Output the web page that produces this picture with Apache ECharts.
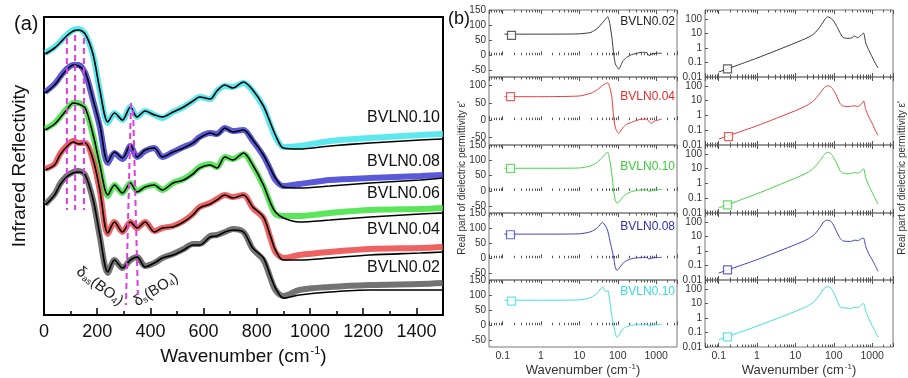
<!DOCTYPE html>
<html>
<head>
<meta charset="utf-8">
<script src="https://cdn.jsdelivr.net/npm/echarts@6/dist/echarts.min.js"></script>
<style>
html, body { margin: 0; padding: 0; background: #fff; }
#chart { width: 908px; height: 378px; }
</style>
</head>
<body>
<div id="chart"></div>
<script>
// ---------- panel (a): infrared reflectivity (offset, arb. units) ----------
var irWn = [5, 40, 60, 85, 110, 130, 155, 185, 210, 240, 265, 295, 325, 350, 380, 415, 445, 485, 525, 560,
  585, 625, 650, 680, 710, 750, 785, 825, 850, 870, 900, 960, 1075, 1225, 1415, 1500];
var irNames = ['BVLN0.10', 'BVLN0.08', 'BVLN0.06', 'BVLN0.04', 'BVLN0.02'];
var irColors = ['#3ee4ec', '#3c3cd4', '#3ee03e', '#ec4646', '#5a5a5a'];
var irLabelY = [118, 162, 194, 230, 268];

var fit010 = [261, 267, 272, 279, 284, 285, 281, 260, 225, 193, 202, 195, 208, 198, 204, 200, 198, 203, 208, 214,
  218, 216, 224, 230, 227, 233, 225, 209, 193, 180, 167, 166, 169, 172, 175, 176];
var fit008 = [222, 230, 237, 245, 250, 249, 243, 215, 190, 153, 163, 157, 170, 158, 165, 167, 158, 163, 167, 172,
  177, 182, 180, 187, 183, 185, 175, 160, 147, 137, 128, 127, 129, 132, 135, 137];
var fit006 = [185, 191, 197, 205, 212, 211, 207, 180, 150, 120, 130, 122, 132, 123, 128, 130, 125, 132, 135, 141,
  147, 150, 147, 158, 155, 162, 150, 130, 113, 103, 97, 93, 95, 98, 101, 102];
var fit004 = [145, 150, 160, 168, 173, 171, 172, 155, 125, 82, 93, 83, 93, 87, 93, 83, 87, 88, 93, 100,
  107, 111, 115, 120, 117, 120, 108, 98, 80, 65, 55, 55, 57, 60, 62, 63];
var fit002 = [110, 120, 130, 138, 142, 143, 140, 115, 80, 43, 55, 47, 55, 58, 48, 52, 57, 60, 65, 70,
  70, 78, 79, 83, 85, 83, 67, 57, 40, 27, 17, 20, 23, 25, 25, 25];

var meas010 = [262, 268, 273, 280, 285, 286, 281, 259, 224, 192, 202, 195, 208, 198, 204, 200, 197, 203, 208, 214,
  218, 216, 224, 229, 228, 232, 224, 208, 191, 178, 168, 169, 174, 177, 180, 181];
var meas008 = [223, 231, 238, 246, 250, 250, 242, 214, 188, 152, 162, 156, 169, 158, 164, 167, 158, 163, 168, 172,
  178, 182, 181, 187, 184, 185, 174, 159, 146, 135, 129, 131, 135, 137, 139, 140];
var meas006 = [186, 192, 198, 206, 212, 212, 206, 179, 149, 119, 130, 122, 132, 124, 128, 130, 125, 132, 136, 142,
  148, 151, 148, 158, 156, 161, 149, 129, 112, 101, 99, 99, 102, 105, 106, 107];
var meas004 = [146, 151, 161, 169, 174, 172, 172, 154, 124, 81, 93, 83, 93, 87, 93, 84, 87, 89, 94, 101,
  108, 112, 116, 120, 118, 120, 107, 97, 78, 63, 57, 60, 63, 66, 67, 68];
var meas002 = [111, 121, 131, 139, 143, 144, 140, 114, 78, 42, 55, 47, 55, 58, 49, 52, 57, 61, 66, 71,
  71, 79, 80, 83, 86, 83, 66, 55, 38, 25, 19, 25, 28, 30, 31, 32];

// dashed guide lines [wn, value] pairs
var dashLines = [
  [[86, 277], [86, 105]],
  [[117, 280], [117, 105]],
  [[150, 277], [150, 105]],
  [[327, 212], [308, 10]],
  [[335, 205], [353, 20]]
];

// ---------- panel (b): dielectric functions ----------
var epsNames = ['BVLN0.02', 'BVLN0.04', 'BVLN0.10', 'BVLN0.08', 'BVLN0.10'];
var epsColors = ['#3a3a3a', '#e63c3c', '#44d444', '#4040c4', '#40dede'];
var epsLabelColors = ['#222222', '#e82a2a', '#3acc3a', '#2e2eb4', '#38dcdc'];
var epsLabelY = [22, 97, 167, 227, 292];

var epsReX = [0.11, 1, 10, 20, 30, 40, 48, 55, 62, 70, 78, 86, 95, 106, 135, 170, 230, 380, 500, 580, 650, 740, 900, 1400];
var epsRe002 = [70, 70, 71, 76, 90, 108, 120, 128, 105, 60, 5, -28, -38, -46, -20, -7, 2, 9, 10, 8, -1, 3, 6, 7];
var epsRe004 = [68, 68, 70, 78, 89, 100, 106, 108, 95, 68, 9, -20, -33, -38, -22, -12, -6, 2, 3, 3, -4, -9, -3, 3];
var epsRe010g = [74, 74, 75, 82, 95, 110, 122, 126, 100, 55, 0, -30, -39, -37, -20, -10, -2, 3, 4, 3, -1, 0, 3, 5];
var epsRe008 = [80, 80, 81, 88, 102, 119, 107, 90, 60, 30, 3, -30, -40, -35, -17, -8, -1, 2, 3, 3, -3, 0, 2, 3];
var epsRe010c = [83, 83, 84, 92, 108, 127, 112, 115, 80, 30, 0, -25, -40, -35, -12, -5, 0, 3, 3, 3, -3, 0, 2, 3];
var epsReMax = [150, 125, 150, 150, 150];
var epsReTicks = [-50, 0, 50, 100, 150];
var epsReSquare = [[0.17, 66], [0.16, 68], [0.16, 74], [0.16, 78], [0.17, 80]];

var epsImX = [0.1, 1, 10, 20, 30, 42, 55, 68, 80, 95, 120, 143, 170, 220, 290, 350, 420, 530, 600, 680, 800, 1000, 1200, 1430];
var epsIm002 = [0.022, 0.2, 2.2, 4.8, 9, 24, 70, 135, 120, 80, 30, 12, 5.5, 4.5, 4.8, 6.5, 5, 7.9, 10.5, 2.2, 0.8, 0.24, 0.09, 0.042];
var epsIm004 = [0.025, 0.2, 2.1, 4.8, 10, 28, 70, 100, 95, 60, 20, 7, 4.5, 4, 4.2, 4.5, 4, 6, 9.5, 2.5, 0.9, 0.3, 0.1, 0.045];
var epsIm010g = [0.022, 0.2, 2.3, 5.2, 11, 30, 80, 130, 115, 70, 22, 8, 5, 4.5, 4.8, 5.5, 5, 7, 10, 2.5, 0.8, 0.25, 0.09, 0.04];
var epsIm008 = [0.03, 0.25, 2.7, 6, 12, 35, 100, 130, 120, 70, 20, 8, 5, 4.5, 4.5, 5.5, 5, 7, 7.5, 2, 0.7, 0.25, 0.1, 0.04];
var epsIm010c = [0.032, 0.27, 2.8, 6.2, 12, 35, 100, 135, 125, 70, 18, 6, 5, 4.8, 4.5, 5.5, 5, 8, 10, 3, 1, 0.3, 0.12, 0.045];
var epsImSquare = [[0.17, 0.036], [0.18, 0.037], [0.17, 0.036], [0.17, 0.049], [0.17, 0.049]];

var FONT = 'Liberation Sans, Arial, Helvetica, sans-serif';

function zip(xs, ys) {
  return xs.map(function (x, i) { return [x, ys[i]]; });
}
function numFmt(v) {
  return String(+(+v).toPrecision(6));
}

var fits = [fit010, fit008, fit006, fit004, fit002];
var meas = [meas010, meas008, meas006, meas004, meas002];
var epsRe = [epsRe002, epsRe004, epsRe010g, epsRe008, epsRe010c];
var epsIm = [epsIm002, epsIm004, epsIm010g, epsIm008, epsIm010c];

var grids = [{ left: 44, top: 17, width: 399, height: 298, show: true, borderColor: '#000', borderWidth: 2 }];
var xAxes = [{
  gridIndex: 0, type: 'value', min: 0, max: 1500, interval: 200,
  axisLine: { show: false },
  axisTick: { inside: true, length: 7, lineStyle: { color: '#000', width: 1.5 } },
  minorTick: { show: true, splitNumber: 2, length: 4, lineStyle: { color: '#000', width: 1.5 } },
  splitLine: { show: false },
  axisLabel: { fontFamily: FONT, fontSize: 18, color: '#111', margin: 8, formatter: numFmt },
  name: '{a|Wavenumber (cm}{s|-1}{a|)}', nameLocation: 'middle', nameGap: 26,
  nameTextStyle: {
    rich: {
      a: { fontFamily: FONT, fontSize: 19, color: '#111' },
      s: { fontFamily: FONT, fontSize: 11, color: '#111', verticalAlign: 'top', padding: [0, 0, 10, 1] }
    }
  }
}];
var yAxes = [{
  gridIndex: 0, type: 'value', min: 0, max: 298,
  axisLine: { show: false }, axisTick: { show: false }, axisLabel: { show: false }, splitLine: { show: false },
  name: 'Infrared Reflectivity', nameLocation: 'middle', nameGap: 15, nameRotate: 90,
  nameTextStyle: { fontFamily: FONT, fontSize: 19, color: '#111' }
}];
var series = [];

// panel (a) series
for (var i = 0; i < 5; i++) {
  series.push({
    type: 'line', xAxisIndex: 0, yAxisIndex: 0, data: zip(irWn, meas[i]), showSymbol: false, smooth: 0.3,
    lineStyle: { color: irColors[i], width: 6, opacity: 0.85 }, z: 2, silent: true
  });
  series.push({
    type: 'line', xAxisIndex: 0, yAxisIndex: 0, data: zip(irWn, fits[i]), showSymbol: false, smooth: 0.3,
    lineStyle: { color: '#000', width: 1.6 }, z: 3, silent: true
  });
}
dashLines.forEach(function (seg) {
  series.push({
    type: 'line', xAxisIndex: 0, yAxisIndex: 0, data: seg, showSymbol: false,
    lineStyle: { color: '#e03ce0', width: 2, type: [6, 4] }, z: 4, silent: true
  });
});

// panel (b) grids
var rowTops = [10, 77, 145, 213, 280];
var rowHeights = [67, 68, 68, 67, 67];
var colLefts = [489, 705];
var colWidth = 188;
var wnRich = {
  a: { fontFamily: FONT, fontSize: 13, color: '#333' },
  s: { fontFamily: FONT, fontSize: 8, color: '#333', verticalAlign: 'top', padding: [0, 0, 7, 1] }
};

for (var c = 0; c < 2; c++) {
  for (var r = 0; r < 5; r++) {
    var gi = grids.length;
    grids.push({ left: colLefts[c], top: rowTops[r], width: colWidth, height: rowHeights[r], show: true, borderColor: '#777', borderWidth: 1 });
    var last = r === 4;
    xAxes.push({
      gridIndex: gi, type: 'log', min: 0.044, max: 3500, position: 'bottom',
      axisLine: { show: false },
      axisTick: { inside: true, length: 4, lineStyle: { color: '#555' } },
      minorTick: { show: true, splitNumber: 9, length: 2.5, lineStyle: { color: '#555' } },
      splitLine: { show: false },
      axisLabel: { show: last, fontFamily: FONT, fontSize: 10.5, color: '#333', margin: 4, showMinLabel: false, showMaxLabel: false, formatter: numFmt },
      name: last ? '{a|Wavenumber (cm}{s|-1}{a|)}' : '', nameLocation: 'middle', nameGap: 14,
      nameTextStyle: { rich: wnRich }
    });
    xAxes.push({
      gridIndex: gi, type: 'log', min: 0.044, max: 3500, position: 'top',
      axisLine: { show: false },
      axisTick: { inside: true, length: 4, lineStyle: { color: '#555' } },
      minorTick: { show: true, splitNumber: 9, length: 2.5, lineStyle: { color: '#555' } },
      splitLine: { show: false }, axisLabel: { show: false }
    });
    if (c === 0) {
      yAxes.push({
        gridIndex: gi, type: 'value', min: -72, max: epsReMax[r],
        axisLine: { show: false },
        axisTick: { inside: true, length: 3, customValues: epsReTicks, lineStyle: { color: '#555' } },
        axisLabel: { fontFamily: FONT, fontSize: 10, color: '#333', margin: 3, customValues: epsReTicks },
        splitLine: { show: false }
      });
    } else {
      yAxes.push({
        gridIndex: gi, type: 'log', min: 0.01, max: 400,
        axisLine: { show: false },
        axisTick: { inside: true, length: 3, lineStyle: { color: '#555' } },
        axisLabel: { fontFamily: FONT, fontSize: 10, color: '#333', margin: 3, showMaxLabel: false, formatter: numFmt },
        splitLine: { show: false }
      });
    }
    var xi = xAxes.length - 2;
    var yi = yAxes.length - 1;
    var lineData = c === 0 ? zip(epsReX, epsRe[r]) : zip(epsImX, epsIm[r]);
    var sq = c === 0 ? epsReSquare[r] : epsImSquare[r];
    series.push({
      type: 'line', xAxisIndex: xi, yAxisIndex: yi, data: lineData, showSymbol: false, smooth: 0.2,
      lineStyle: { color: epsColors[r], width: 1 }, silent: true
    });
    series.push({
      type: 'scatter', xAxisIndex: xi, yAxisIndex: yi, data: [sq], symbol: 'rect', symbolSize: 8,
      itemStyle: { color: '#fff', borderColor: epsColors[r], borderWidth: 1.2 }, z: 5, silent: true
    });
  }
}

// text
var graphics = [
  { type: 'text', left: 14, top: 14, style: { text: '(a)', font: '20px ' + FONT, fill: '#111' } },
  { type: 'text', left: 448, top: 10, style: { text: '(b)', font: '18px ' + FONT, fill: '#111' } },
  {
    type: 'text', x: 78, y: 270, rotation: -37 * Math.PI / 180,
    style: {
      text: '{a|δ}{s|as}{a|(BO}{s|4}{a|)}', verticalAlign: 'middle',
      rich: { a: { fontFamily: FONT, fontSize: 15, fill: '#222' }, s: { fontFamily: FONT, fontSize: 9, fill: '#222', verticalAlign: 'bottom' } }
    }
  },
  {
    type: 'text', x: 135, y: 303, rotation: 32 * Math.PI / 180,
    style: {
      text: '{a|δ}{s|s}{a|(BO}{s|4}{a|)}', verticalAlign: 'middle',
      rich: { a: { fontFamily: FONT, fontSize: 15, fill: '#222' }, s: { fontFamily: FONT, fontSize: 9, fill: '#222', verticalAlign: 'bottom' } }
    }
  },
  {
    type: 'text', x: 462, y: 178, rotation: Math.PI / 2,
    style: { text: "Real part of dielectric permittivity ε'", font: '10px ' + FONT, fill: '#333', align: 'center', verticalAlign: 'middle' }
  },
  {
    type: 'text', x: 902, y: 178, rotation: Math.PI / 2,
    style: { text: "Real part of dielectric permittivity ε'", font: '10px ' + FONT, fill: '#333', align: 'center', verticalAlign: 'middle' }
  }
];
for (var k = 0; k < 5; k++) {
  graphics.push({
    type: 'text', x: 440, y: irLabelY[k],
    style: { text: irNames[k], font: '16px ' + FONT, fill: '#111', align: 'right', verticalAlign: 'middle' }
  });
  graphics.push({
    type: 'text', x: 675, y: epsLabelY[k],
    style: { text: epsNames[k], font: '12px ' + FONT, fill: epsLabelColors[k], align: 'right', verticalAlign: 'middle' }
  });
}

var chart = echarts.init(document.getElementById('chart'));
chart.setOption({
  animation: false,
  backgroundColor: '#fff',
  grid: grids,
  xAxis: xAxes,
  yAxis: yAxes,
  series: series,
  graphic: graphics
});
</script>
</body>
</html>
